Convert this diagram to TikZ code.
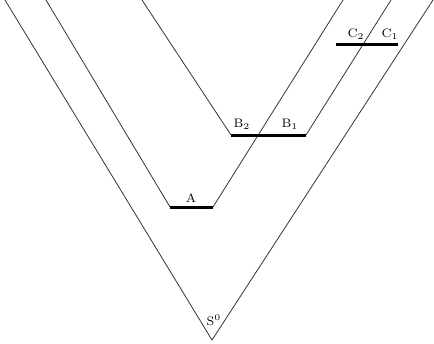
\documentclass[tikz,border=0pt]{standalone}
\usepackage{amsmath}
\usepackage{xcolor}
\usepackage{tikz}
\usetikzlibrary{positioning, calc}
\tikzset{
  cone/.style={line width=0.45pt, black!80},
  cut/.style={line width=1.7pt, black},
  lbl/.style={font=\scriptsize, inner sep=1pt}
}

\begin{document}
\begin{tikzpicture}[x=0.02cm, y=-0.02cm]
  \useasboundingbox (0,0) rectangle (434,343);
  % outer cone from S0
  \coordinate (apex) at (212,340);
  \coordinate (outL) at (5,0);
  \coordinate (outR) at (433,0);
  \draw[cone] (outL) -- (apex) -- (outR);
  \node[lbl] (s0) at (214,320) {S$^0$};
  % cone on A
  \coordinate (aL) at (170,207);
  \coordinate (aR) at (213,207);
  \draw[cone] (46,0) -- (aL);
  \draw[cone] (aR) -- (343,0);
  \draw[cut] (aL) -- (aR);
  \node[lbl] (a) at (191,198) {A};
  % cone on B
  \coordinate (bL) at (231,135);
  \coordinate (bR) at (306,135);
  \draw[cone] (142,0) -- (bL);
  \draw[cone] (bR) -- (391,0);
  \draw[cut] (bL) -- (bR);
  \node[lbl] (b2) at (242,124) {B$_2$};
  \node[lbl] (b1) at (290,124) {B$_1$};
  % segment C
  \coordinate (cL) at (336,44);
  \coordinate (cR) at (398,44);
  \draw[cut] (cL) -- (cR);
  \node[lbl] (c2) at (356,34) {C$_2$};
  \node[lbl] (c1) at (390,34) {C$_1$};
\end{tikzpicture}
\end{document}
